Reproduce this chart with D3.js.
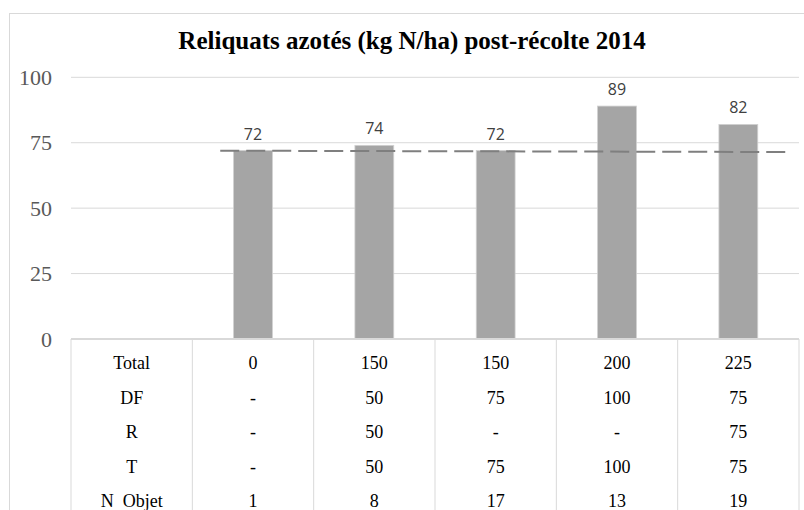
<!DOCTYPE html>
<html>
<head>
<meta charset="utf-8">
<script src="https://cdn.jsdelivr.net/npm/d3@7"></script>
<style>
  body { margin: 0; background: #fff; }
  svg { display: block; }
</style>
</head>
<body>
<svg></svg>
<script>
// donnees
const objets = ["1", "8", "17", "13", "19"];
const reliquats = [72, 74, 72, 89, 82];
const yTicks = [0, 25, 50, 75, 100];
const rowLabels = ["Total", "DF", "R", "T", "N  Objet"];
const totals = ["0", "150", "150", "200", "225"];
const df = ["-", "50", "75", "100", "75"];
const r = ["-", "50", "-", "-", "75"];
const t = ["-", "50", "75", "100", "75"];
// courbe de tendance (position en colonnes, valeur)
const trendX = [1.23, 5.89];
const trendY = [71.95, 71.45];

const serif = "'Liberation Serif', 'Times New Roman', Times, 'DejaVu Serif', serif";
const svgWidth = 804, svgHeight = 510;
const margin = { top: 77.3, left: 71, right: 799 };
const plotBottom = 339;

const svg = d3.select("svg")
    .attr("width", svgWidth)
    .attr("height", svgHeight);

// cadre du graphique
svg.append("rect")
    .attr("x", 9.5).attr("y", 13.5)
    .attr("width", 820).attr("height", 520)
    .attr("fill", "#fff")
    .attr("stroke", "#d9d9d9");

// colonnes : une pour les libelles puis une par objet
const cols = ["label"].concat(objets);
const x = d3.scaleBand()
    .domain(cols)
    .range([margin.left, margin.right]);
const xIdx = d3.scaleLinear()
    .domain([0, cols.length])
    .range([margin.left, margin.right]);
const y = d3.scaleLinear()
    .domain([0, 100])
    .range([plotBottom, margin.top]);

// titre
svg.append("text")
    .attr("x", 412).attr("y", 49)
    .attr("text-anchor", "middle")
    .style("font-family", serif)
    .attr("font-weight", "bold")
    .attr("font-size", 25)
    .attr("fill", "#000")
    .text("Reliquats azotés (kg N/ha) post-récolte 2014");

// grille
svg.append("g")
    .selectAll("line")
    .data(yTicks.filter(d => d > 0))
    .join("line")
    .attr("x1", margin.left).attr("x2", margin.right)
    .attr("y1", d => y(d)).attr("y2", d => y(d))
    .attr("stroke", "#d9d9d9")
    .attr("stroke-width", 1);

// etiquettes de l'axe y
svg.append("g")
    .selectAll("text")
    .data(yTicks)
    .join("text")
    .attr("x", 52)
    .attr("y", d => y(d))
    .attr("dy", "0.35em")
    .attr("text-anchor", "end")
    .style("font-family", serif)
    .attr("font-size", 22)
    .attr("fill", "#595959")
    .text(d => d);

// barres
const barW = x.bandwidth() * 0.32;
svg.append("g")
    .selectAll("rect")
    .data(reliquats)
    .join("rect")
    .attr("x", (d, i) => x(objets[i]) + (x.bandwidth() - barW) / 2)
    .attr("y", d => y(d))
    .attr("width", barW)
    .attr("height", d => y(0) - y(d))
    .attr("fill", "#a5a5a5")
    .attr("stroke", "#d0d0d0")
    .attr("stroke-width", 0.8);

// valeurs au-dessus des barres
svg.append("g")
    .selectAll("text")
    .data(reliquats)
    .join("text")
    .attr("x", (d, i) => x(objets[i]) + x.bandwidth() / 2)
    .attr("y", d => y(d) - 11)
    .attr("text-anchor", "middle")
    .style("font-family", "'Open Sans', sans-serif")
    .attr("font-size", 16)
    .attr("fill", "#404040")
    .text(d => d);

// courbe de tendance
const trend = trendX.map((v, i) => ({ x: v, y: trendY[i] }));
svg.append("path")
    .datum(trend)
    .attr("fill", "none")
    .attr("stroke", "#7f7f7f")
    .attr("stroke-width", 2)
    .attr("stroke-dasharray", "19,7")
    .attr("d", d3.line().x(d => xIdx(d.x)).y(d => y(d.y)));

// axe horizontal
svg.append("line")
    .attr("x1", margin.left).attr("x2", margin.right)
    .attr("y1", y(0)).attr("y2", y(0))
    .attr("stroke", "#d9d9d9")
    .attr("stroke-width", 2);

// tableau de donnees
const rowY = d3.scaleBand()
    .domain(rowLabels)
    .range([345.75, 518.25]);

svg.append("g")
    .selectAll("line")
    .data(cols.concat(["end"]))
    .join("line")
    .attr("x1", (d, i) => xIdx(i)).attr("x2", (d, i) => xIdx(i))
    .attr("y1", y(0)).attr("y2", svgHeight)
    .attr("stroke", "#d9d9d9")
    .attr("stroke-width", 1);

const rows = [rowLabels, totals, df, r, t, objets];
const cells = [];
rowLabels.forEach((lab, ri) => {
    cells.push({ col: "label", row: lab, text: lab });
    objets.forEach((o, ci) => {
        cells.push({ col: o, row: lab, text: rows[ri + 1][ci] });
    });
});

svg.append("g")
    .selectAll("text")
    .data(cells)
    .join("text")
    .attr("x", d => x(d.col) + x.bandwidth() / 2)
    .attr("y", d => rowY(d.row) + rowY.bandwidth() / 2)
    .attr("dy", "0.35em")
    .attr("text-anchor", "middle")
    .style("font-family", serif)
    .attr("font-size", 18)
    .attr("fill", "#000")
    .style("white-space", "pre")
    .text(d => d.text);
</script>
</body>
</html>
